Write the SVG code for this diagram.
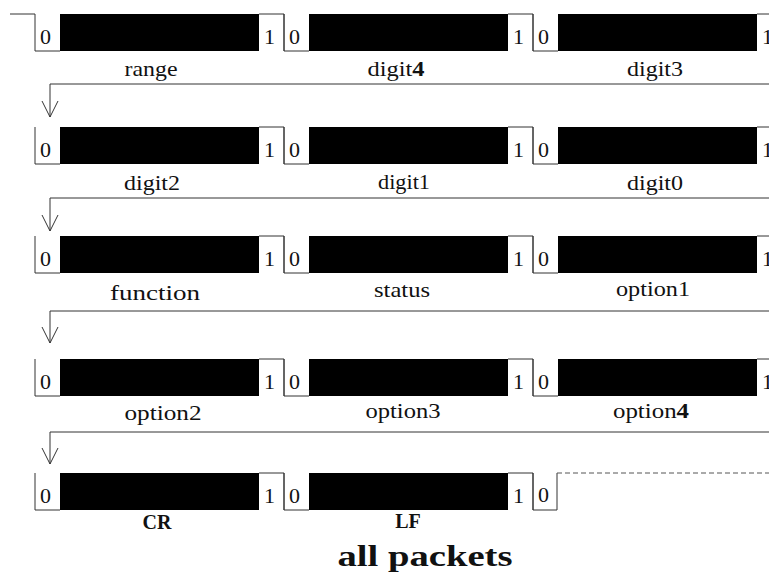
<svg xmlns="http://www.w3.org/2000/svg" xmlns:xlink="http://www.w3.org/1999/xlink" width="769" height="572" viewBox="0 0 769 572" font-family="Liberation Serif, serif">
<style>
.sig{fill:none;stroke:#333;stroke-width:1}
.blk{fill:#000}
.con{fill:none;stroke:#333;stroke-width:1}
.dash{fill:none;stroke:#555;stroke-width:1;stroke-dasharray:5,3}
</style>
<defs>
<g id="pkt">
<rect class="blk" x="25" y="0" width="199" height="37"/>
<path class="sig" d="M0,0 V37 H25 M224,0 H249 V37"/>
<text x="5" y="30" font-family="Liberation Serif" font-size="22" fill="#111" text-anchor="start">0</text>
<text x="229" y="30" font-family="Liberation Serif" font-size="22" fill="#111" text-anchor="start">1</text>
</g>
</defs>
<rect width="769" height="572" fill="#fff"/>
<path class="sig" d="M10,14 H35"/>
<g font-family="Liberation Serif" font-size="21" fill="#111" text-anchor="middle">
<g id="range"><use xlink:href="#pkt" x="35" y="14"/><text x="151" y="76" textLength="53" lengthAdjust="spacingAndGlyphs">range</text></g>
<g id="digit4"><use xlink:href="#pkt" x="284" y="14"/><text x="396" y="76" textLength="57" lengthAdjust="spacingAndGlyphs">digit<tspan font-weight="bold">4</tspan></text></g>
<g id="digit3"><use xlink:href="#pkt" x="533" y="14"/><text x="655" y="76" textLength="56" lengthAdjust="spacingAndGlyphs">digit3</text></g>
<g id="digit2"><use xlink:href="#pkt" x="35" y="127"/><text x="152" y="190" textLength="56" lengthAdjust="spacingAndGlyphs">digit2</text></g>
<g id="digit1"><use xlink:href="#pkt" x="284" y="127"/><text x="404" y="189" textLength="52" lengthAdjust="spacingAndGlyphs">digit1</text></g>
<g id="digit0"><use xlink:href="#pkt" x="533" y="127"/><text x="655" y="190" textLength="56" lengthAdjust="spacingAndGlyphs">digit0</text></g>
<g id="function"><use xlink:href="#pkt" x="35" y="236"/><text x="155" y="300" textLength="90" lengthAdjust="spacingAndGlyphs">function</text></g>
<g id="status"><use xlink:href="#pkt" x="284" y="236"/><text x="402" y="297" textLength="56" lengthAdjust="spacingAndGlyphs">status</text></g>
<g id="option1"><use xlink:href="#pkt" x="533" y="236"/><text x="653" y="296" textLength="74" lengthAdjust="spacingAndGlyphs">option1</text></g>
<g id="option2"><use xlink:href="#pkt" x="35" y="359"/><text x="163" y="420" textLength="77" lengthAdjust="spacingAndGlyphs">option2</text></g>
<g id="option3"><use xlink:href="#pkt" x="284" y="359"/><text x="403" y="418" textLength="75" lengthAdjust="spacingAndGlyphs">option3</text></g>
<g id="option4"><use xlink:href="#pkt" x="533" y="359"/><text x="651" y="418" textLength="76" lengthAdjust="spacingAndGlyphs">option<tspan font-weight="bold">4</tspan></text></g>
<g id="CR"><use xlink:href="#pkt" x="35" y="473"/><text x="157" y="529" font-size="20" font-weight="bold">CR</text></g>
<g id="LF"><use xlink:href="#pkt" x="284" y="473"/><text x="408" y="528" font-size="20" font-weight="bold">LF</text></g>
<g id="idle"><path class="sig" d="M533,473 V510 H557 V473"/><path class="dash" d="M557,473 H769"/><text x="538" y="502" font-size="22" text-anchor="start">0</text></g>
<text x="425" y="566" font-size="29" font-weight="bold" textLength="175" lengthAdjust="spacingAndGlyphs">all packets</text>
</g>
<g id="connectors">
<path class="con" d="M769,84 H50 V117 M42,101 L50,117 L58,101"/>
<path class="con" d="M769,198 H50 V231 M42,215 L50,231 L58,215"/>
<path class="con" d="M769,311 H50 V343 M42,327 L50,343 L58,327"/>
<path class="con" d="M769,432 H50 V464 M42,448 L50,464 L58,448"/>
</g>
</svg>
